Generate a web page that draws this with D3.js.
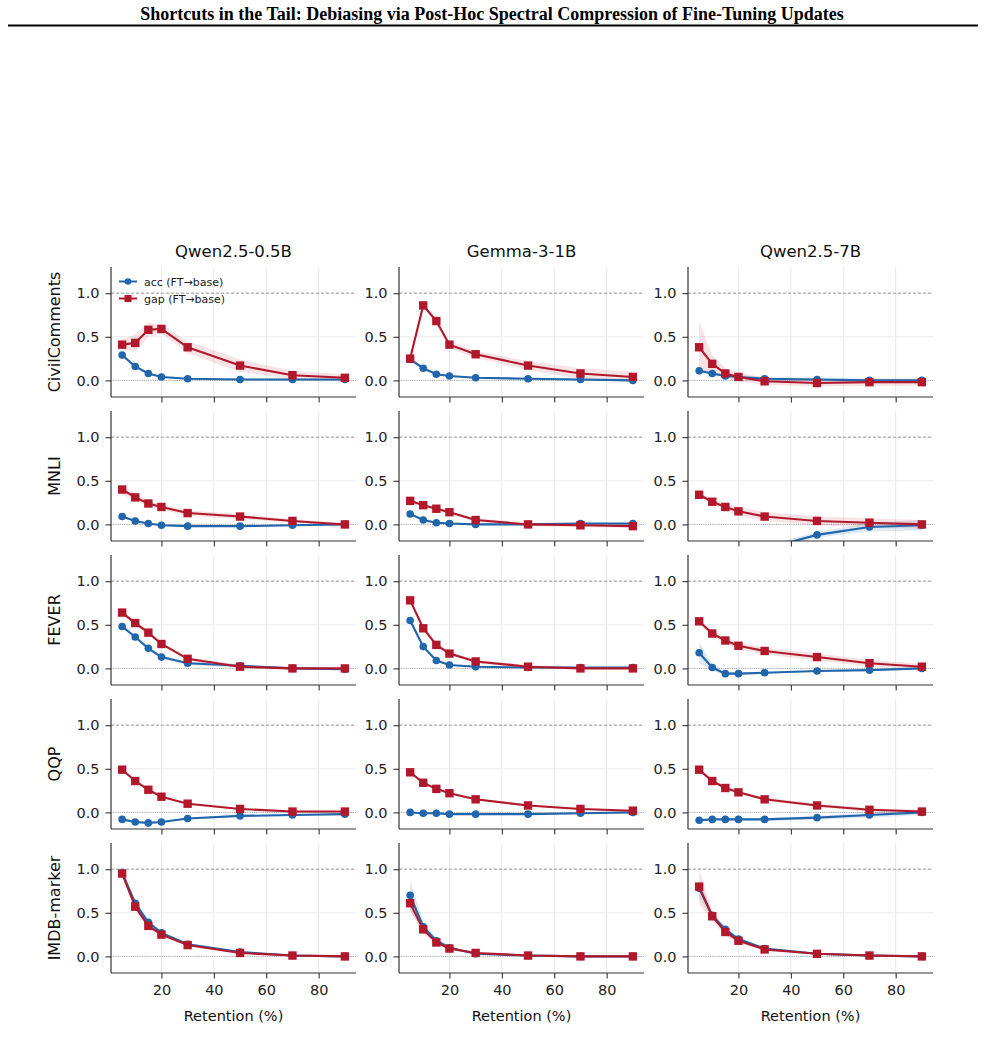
<!DOCTYPE html>
<html><head><meta charset="utf-8">
<script src="https://cdn.jsdelivr.net/npm/d3@7"></script>
<style>body{margin:0;background:#fff}svg{display:block}</style>
</head><body>
<svg id="c" width="985" height="1046"></svg>
<script>
const retention = [5, 10, 15, 20, 30, 50, 70, 90];
const models = ["Qwen2.5-0.5B", "Gemma-3-1B", "Qwen2.5-7B"];
const datasets = ["CivilComments", "MNLI", "FEVER", "QQP", "IMDB-marker"];
const yTicks = [0.0, 0.5, 1.0];
const xTicks = [20, 40, 60, 80];
const seriesNames = ["acc (FT\u2192base)", "gap (FT\u2192base)"];

// acc (FT→base), per dataset: [Qwen0.5B, Gemma1B, Qwen7B]
const accCivil = [[0.29,0.16,0.08,0.04,0.02,0.01,0.01,0.01],[0.24,0.14,0.07,0.05,0.03,0.02,0.01,0.00],[0.11,0.08,0.05,0.04,0.02,0.01,0.00,0.00]];
const accMNLI  = [[0.09,0.04,0.01,-0.01,-0.02,-0.02,-0.01,0.00],[0.12,0.05,0.02,0.01,0.00,0.00,0.01,0.01],[-0.75,-0.6,-0.5,-0.42,-0.28,-0.12,-0.03,-0.01]];
const accFEVER = [[0.48,0.36,0.23,0.13,0.06,0.03,0.00,-0.01],[0.55,0.25,0.09,0.04,0.02,0.01,0.01,0.01],[0.18,0.01,-0.06,-0.06,-0.05,-0.03,-0.02,0.00]];
const accQQP   = [[-0.08,-0.11,-0.12,-0.11,-0.07,-0.04,-0.03,-0.02],[0.00,-0.01,-0.01,-0.02,-0.02,-0.02,-0.01,0.00],[-0.09,-0.08,-0.08,-0.08,-0.08,-0.06,-0.03,0.00]];
const accIMDB  = [[0.96,0.61,0.39,0.27,0.14,0.05,0.01,0.00],[0.70,0.34,0.18,0.10,0.03,0.01,0.00,0.00],[0.78,0.47,0.31,0.20,0.09,0.03,0.01,0.00]];

// gap (FT→base)
const gapCivil = [[0.41,0.43,0.58,0.59,0.38,0.17,0.06,0.03],[0.25,0.86,0.68,0.41,0.30,0.17,0.08,0.04],[0.38,0.19,0.08,0.04,-0.01,-0.03,-0.02,-0.02]];
const gapMNLI  = [[0.40,0.31,0.24,0.20,0.13,0.09,0.04,0.00],[0.27,0.22,0.18,0.14,0.05,0.00,-0.01,-0.02],[0.34,0.26,0.20,0.15,0.09,0.04,0.02,0.00]];
const gapFEVER = [[0.64,0.52,0.41,0.28,0.11,0.02,0.00,0.00],[0.78,0.46,0.27,0.17,0.08,0.02,0.00,0.00],[0.54,0.40,0.32,0.26,0.20,0.13,0.06,0.02]];
const gapQQP   = [[0.49,0.36,0.26,0.18,0.10,0.04,0.01,0.01],[0.46,0.34,0.27,0.22,0.15,0.08,0.04,0.02],[0.49,0.36,0.28,0.23,0.15,0.08,0.03,0.01]];
const gapIMDB  = [[0.95,0.57,0.35,0.25,0.13,0.04,0.01,0.00],[0.61,0.31,0.16,0.09,0.04,0.01,0.00,0.00],[0.80,0.46,0.28,0.18,0.08,0.03,0.01,0.00]];

// spread (± band half-width)
const accSdCivil = [[0.02,0.02,0.01,0.01,0.01,0.01,0.01,0.01],[0.02,0.01,0.01,0.01,0.01,0.01,0.01,0.01],[0.02,0.02,0.02,0.02,0.02,0.02,0.02,0.02]];
const accSdMNLI  = [[0.01,0.01,0.01,0.01,0.01,0.01,0.01,0.01],[0.01,0.01,0.01,0.01,0.01,0.01,0.01,0.01],[0.08,0.07,0.06,0.05,0.04,0.03,0.05,0.06]];
const accSdFEVER = [[0.02,0.02,0.02,0.02,0.02,0.02,0.01,0.01],[0.02,0.02,0.01,0.01,0.01,0.01,0.01,0.01],[0.12,0.04,0.02,0.02,0.01,0.01,0.01,0.01]];
const accSdQQP   = [[0.01,0.01,0.01,0.01,0.01,0.01,0.01,0.01],[0.01,0.01,0.01,0.01,0.01,0.01,0.01,0.01],[0.02,0.01,0.01,0.01,0.02,0.02,0.03,0.03]];
const accSdIMDB  = [[0.04,0.03,0.02,0.02,0.01,0.01,0.01,0.01],[0.17,0.06,0.03,0.02,0.01,0.01,0.01,0.01],[0.10,0.04,0.03,0.02,0.01,0.01,0.01,0.01]];

const gapSdCivil = [[0.06,0.10,0.08,0.05,0.07,0.07,0.05,0.04],[0.03,0.02,0.03,0.04,0.04,0.05,0.06,0.06],[0.30,0.10,0.06,0.05,0.04,0.04,0.04,0.04]];
const gapSdMNLI  = [[0.05,0.04,0.03,0.03,0.03,0.03,0.02,0.02],[0.02,0.02,0.02,0.02,0.02,0.02,0.02,0.02],[0.03,0.03,0.04,0.05,0.05,0.05,0.05,0.05]];
const gapSdFEVER = [[0.02,0.02,0.02,0.02,0.02,0.02,0.02,0.02],[0.02,0.03,0.03,0.02,0.02,0.02,0.01,0.01],[0.03,0.03,0.04,0.04,0.04,0.04,0.04,0.03]];
const gapSdQQP   = [[0.01,0.01,0.01,0.01,0.01,0.01,0.01,0.01],[0.01,0.01,0.01,0.01,0.01,0.01,0.01,0.01],[0.02,0.02,0.02,0.02,0.02,0.02,0.02,0.02]];
const gapSdIMDB  = [[0.04,0.04,0.03,0.02,0.01,0.01,0.01,0.01],[0.08,0.05,0.03,0.02,0.01,0.01,0.01,0.01],[0.20,0.06,0.04,0.03,0.02,0.01,0.01,0.01]];

const accAll = [accCivil, accMNLI, accFEVER, accQQP, accIMDB];
const gapAll = [gapCivil, gapMNLI, gapFEVER, gapQQP, gapIMDB];
const accSdAll = [accSdCivil, accSdMNLI, accSdFEVER, accSdQQP, accSdIMDB];
const gapSdAll = [gapSdCivil, gapSdMNLI, gapSdFEVER, gapSdQQP, gapSdIMDB];

const BLUE = "#2166ac", RED = "#b2182b";
const FONT = "DejaVu Sans, sans-serif";
const svg = d3.select("#c");

// header
svg.append("text").attr("x", 492).attr("y", 20).attr("text-anchor", "middle")
  .attr("font-family", "Liberation Serif, Times New Roman, serif").attr("font-weight", "bold")
  .attr("font-size", 18).text("Shortcuts in the Tail: Debiasing via Post-Hoc Spectral Compression of Fine-Tuning Updates");
svg.append("line").attr("x1", 8).attr("x2", 978).attr("y1", 25.5).attr("y2", 25.5)
  .attr("stroke", "#000").attr("stroke-width", 2);

const colLeft = [111, 399, 688];
const rowTop = [267, 411, 555, 699, 843];
const W = 245, H = 130;

const x = d3.scaleLinear().domain([0.75, 94.25]).range([0, W]);
const y = d3.scaleLinear().domain([-0.19, 1.3]).range([H, 0]);

datasets.forEach((ds, r) => {
  models.forEach((m, c) => {
    const g = svg.append("g").attr("transform", `translate(${colLeft[c]},${rowTop[r]})`);
    const cid = `clip${r}_${c}`;
    g.append("clipPath").attr("id", cid).append("rect").attr("width", W).attr("height", H);

    // grid
    g.selectAll(".gx").data(xTicks).enter().append("line")
      .attr("x1", d => x(d)).attr("x2", d => x(d)).attr("y1", 0).attr("y2", H)
      .attr("stroke", "#e8e8e8").attr("stroke-width", 0.9);
    g.selectAll(".gy").data(yTicks).enter().append("line")
      .attr("x1", 0).attr("x2", W).attr("y1", d => y(d)).attr("y2", d => y(d))
      .attr("stroke", "#e8e8e8").attr("stroke-width", 0.9);
    // reference lines
    g.append("line").attr("x1", 0).attr("x2", W).attr("y1", y(1)).attr("y2", y(1))
      .attr("stroke", "#888").attr("stroke-width", 0.8).attr("stroke-dasharray", "3,2");
    g.append("line").attr("x1", 0).attr("x2", W).attr("y1", y(0)).attr("y2", y(0))
      .attr("stroke", "#999").attr("stroke-width", 0.8).attr("stroke-dasharray", "1,1.2");

    const plot = g.append("g").attr("clip-path", `url(#${cid})`);
    const series = [
      {v: accAll[r][c], sd: accSdAll[r][c], color: BLUE, op: 0.15, shape: "circle"},
      {v: gapAll[r][c], sd: gapSdAll[r][c], color: RED, op: 0.12, shape: "square"}
    ];
    series.forEach(s => {
      const pts = retention.map((xv, i) => ({x: xv, y: s.v[i], sd: s.sd[i]}));
      plot.append("path").datum(pts)
        .attr("d", d3.area().x(d => x(d.x)).y0(d => y(d.y - d.sd)).y1(d => y(d.y + d.sd)))
        .attr("fill", s.color).attr("fill-opacity", s.op).attr("stroke", "none");
    });
    series.forEach(s => {
      const pts = retention.map((xv, i) => ({x: xv, y: s.v[i]}));
      plot.append("path").datum(pts)
        .attr("d", d3.line().x(d => x(d.x)).y(d => y(d.y)))
        .attr("fill", "none").attr("stroke", s.color).attr("stroke-width", 2.1);
      if (s.shape === "circle") {
        plot.selectAll(null).data(pts).enter().append("circle")
          .attr("cx", d => x(d.x)).attr("cy", d => y(d.y)).attr("r", 3.8).attr("fill", s.color);
      } else {
        plot.selectAll(null).data(pts).enter().append("rect")
          .attr("x", d => x(d.x) - 4.2).attr("y", d => y(d.y) - 4.2).attr("width", 8.4).attr("height", 8.4)
          .attr("fill", s.color);
      }
    });

    // axes
    const yAxis = d3.axisLeft(y).tickValues(yTicks).tickFormat(d3.format(".1f")).tickSize(5.5).tickPadding(6);
    const ya = g.append("g").call(yAxis);
    const xAxis = d3.axisBottom(x).tickValues(xTicks).tickSize(5.5).tickPadding(6)
      .tickFormat(r === datasets.length - 1 ? d3.format("d") : () => "");
    const xa = g.append("g").attr("transform", `translate(0,${H})`).call(xAxis);
    [ya, xa].forEach(a => {
      a.select(".domain").attr("stroke", "#333").attr("stroke-width", 1.2);
      a.selectAll(".tick line").attr("stroke", "#333").attr("stroke-width", 1.1);
      a.selectAll("text").attr("font-family", FONT).attr("font-size", 14.5).attr("fill", "#222");
    });
    ya.select(".domain").attr("d", `M0,0V${H}`);
    xa.select(".domain").attr("d", `M0,0H${W}`);

    if (r === 0) {
      g.append("text").attr("x", W / 2).attr("y", -10).attr("text-anchor", "middle")
        .attr("font-family", FONT).attr("font-size", 16.5).attr("fill", "#111").text(m);
    }
    if (r === datasets.length - 1) {
      g.append("text").attr("x", W / 2).attr("y", H + 48).attr("text-anchor", "middle")
        .attr("font-family", FONT).attr("font-size", 14.5).attr("fill", "#111").text("Retention (%)");
    }
    if (c === 0) {
      g.append("text").attr("transform", `translate(-51,${H / 2}) rotate(-90)`).attr("text-anchor", "middle")
        .attr("font-family", FONT).attr("font-size", 16).attr("fill", "#111").text(ds);
    }
    if (r === 0 && c === 0) {
      const lg = g.append("g").attr("transform", "translate(8,14.5)");
      seriesNames.forEach((nm, i) => {
        const ly = i * 17;
        const col = i === 0 ? BLUE : RED;
        lg.append("line").attr("x1", 0).attr("x2", 18).attr("y1", ly).attr("y2", ly)
          .attr("stroke", col).attr("stroke-width", 2);
        if (i === 0) lg.append("circle").attr("cx", 9).attr("cy", ly).attr("r", 3.3).attr("fill", col);
        else lg.append("rect").attr("x", 5.5).attr("y", ly - 3.5).attr("width", 7).attr("height", 7).attr("fill", col);
        lg.append("text").attr("x", 25).attr("y", ly + 4).attr("font-family", FONT)
          .attr("font-size", 11).attr("fill", "#222").text(nm);
      });
    }
  });
});
</script>
</body></html>
